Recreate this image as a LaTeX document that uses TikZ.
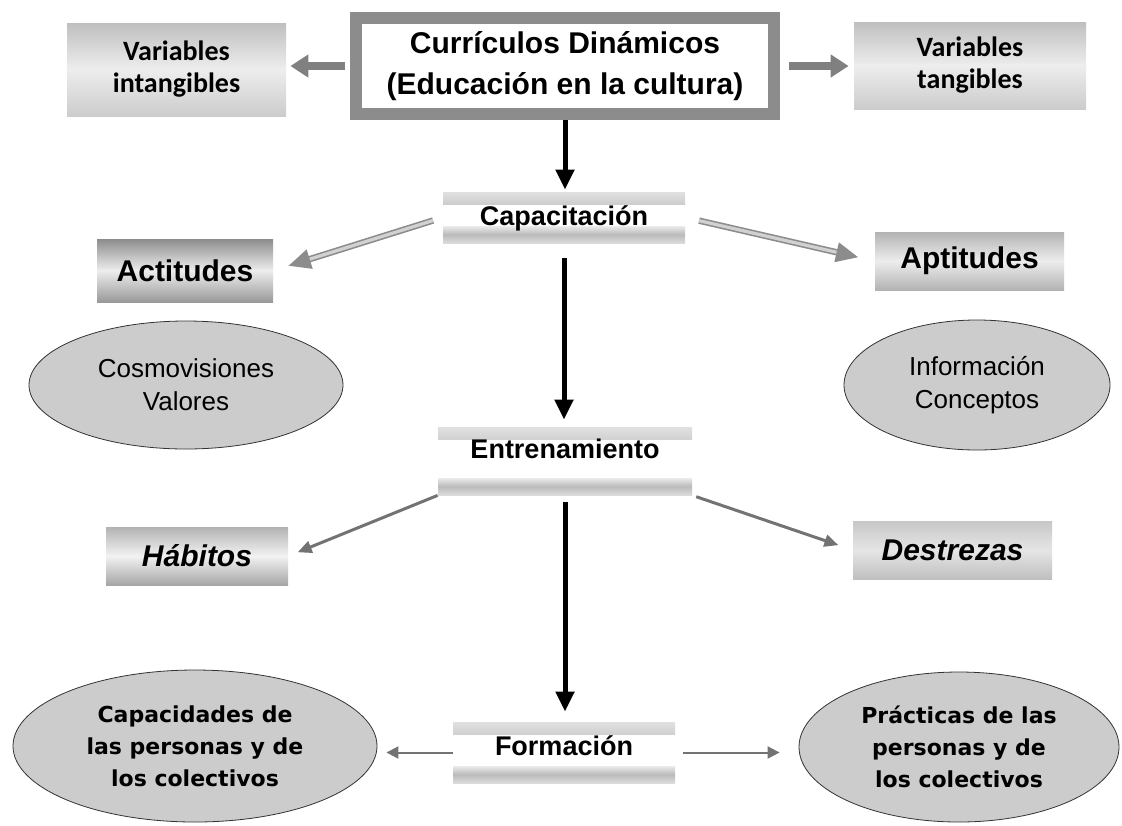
\documentclass[tikz,border=0pt]{standalone}
\usepackage{fontspec}
\setmainfont{Liberation Sans}
\newfontfamily\calfont{Carlito}
\newfontfamily\verfont{DejaVu Sans}
\usetikzlibrary{shapes.geometric,arrows.meta}

\begin{document}
\begin{tikzpicture}[x=0.5pt,y=-0.5pt,
    cur/.style={draw=black!45,line width=6pt,fill=white,minimum width=209pt,minimum height=47pt,
      align=center,font=\bfseries\fontsize{15}{20.5}\selectfont},
    varbox/.style={inner sep=0pt,align=center,font=\calfont\bfseries\fontsize{14}{16}\selectfont,
      top color=black!25,bottom color=black!20,middle color=black!7},
    keybox/.style={inner sep=0pt,minimum height=29pt,font=\bfseries\fontsize{15}{18}\selectfont},
    band/.style={inner sep=0pt,text height=16.5pt,font=\bfseries\fontsize{13.5}{16}\selectfont,
      path picture={
        \shade[top color=black!12,bottom color=black!10,middle color=black!28] (path picture bounding box.north west)
          rectangle ([yshift=-6pt]path picture bounding box.north east);
        \shade[top color=black!8,bottom color=black!14,middle color=black!27] ([yshift=8.5pt]path picture bounding box.south west)
          rectangle (path picture bounding box.south east);}},
    bubble/.style={ellipse,draw=black!80,fill=black!20,inner sep=0pt,align=center},
    big/.style={draw=black!50,line width=4pt,-{Triangle[length=9pt,width=11pt]}},
    vline/.style={line width=2.5pt,-{Triangle[length=10pt,width=9pt]}},
    twin/.style={draw=black!45,double=black!18,line width=0.8pt,double distance=1.6pt,
      -{Triangle[length=11pt,width=10pt]}},
    side/.style={draw=black!55,line width=1.5pt,-{Triangle[length=7pt,width=6pt]}},
    fine/.style={draw=black!55,line width=1pt,-{Triangle[length=6pt,width=6pt]}}]

  \fill[white] (0,0) rectangle (1122,825);

  \node[cur] (cu) at (565,66) {\raisebox{3.5pt}{\begin{tabular}{@{}c@{}}Currículos Dinámicos\\(Educación en la cultura)\end{tabular}}};
  \node[varbox,minimum width=109.5pt,minimum height=46.5pt] (intan) at (176.5,69.5) {Variables\\intangibles};
  \node[varbox,minimum width=116pt,minimum height=43.5pt] (tang) at (970,65.5) {Variables\\tangibles};

  \node[band,minimum width=121pt,text depth=9pt] (cap) at (564,217.5) {Capacitación};
  \node[keybox,minimum width=88pt,minimum height=31.5pt,top color=black!45,bottom color=black!40,middle color=black!7] (act) at (185,270.5) {Actitudes};
  \node[keybox,minimum width=94.5pt,top color=black!30,bottom color=black!30,middle color=black!7] (apt) at (969.5,261) {Aptitudes};

  \node[bubble,minimum width=157pt,minimum height=64pt,font=\fontsize{13}{16.5}\selectfont] (cos) at (186,385) {Cosmovisiones\\Valores};
  \node[bubble,minimum width=133pt,minimum height=65pt,font=\fontsize{13}{16.5}\selectfont] (inf) at (977,385) {Información\\Conceptos};

  \node[band,minimum width=127pt,text height=15.5pt,text depth=18.5pt] (ent) at (565,461) {Entrenamiento};
  \node[keybox,minimum width=91pt,font=\bfseries\itshape\fontsize{15}{18}\selectfont,top color=black!30,bottom color=black!35,middle color=black!5] (hab) at (197,556) {Hábitos};
  \node[keybox,minimum width=99.5pt,font=\bfseries\itshape\fontsize{15}{18}\selectfont,top color=black!22,bottom color=black!25,middle color=black!10] (des) at (952.5,550) {Destrezas};

  \node[band,minimum width=111pt,text depth=14pt] (for) at (564,752.5) {Formación};
  \node[bubble,minimum width=182pt,minimum height=76pt,font=\verfont\bfseries\fontsize{11}{16}\selectfont] (capa) at (195,746) {Capacidades de\\las personas y de\\los colectivos};
  \node[bubble,minimum width=160pt,minimum height=75pt,font=\verfont\bfseries\fontsize{11}{16}\selectfont] (pra) at (959,747) {Prácticas de las\\personas y de\\los colectivos};

  \draw[big,shorten <=2.5pt,shorten >=2pt] (cu.west) -- (cu.west -| intan.east);
  \draw[big,shorten <=4.5pt,shorten >=2.5pt] (cu.east) -- (cu.east -| tang.west);
  \draw[vline,shorten >=1pt] (cu.south) -- (cu.south |- cap.north);
  \draw[twin,shorten <=5pt,shorten >=8pt] (cap.west) -- (act.east);
  \draw[twin,shorten <=7pt,shorten >=8.5pt] (cap.east) -- (apt.west);
  \draw[vline,shorten <=7.5pt,shorten >=3.5pt] (cap.south) -- (cap.south |- ent.north);
  \draw[side,shorten >=5pt] (ent.south west) -- (hab.east);
  \draw[side,shorten <=2pt,shorten >=7.5pt] (ent.south east) -- (des.west);
  \draw[vline,shorten <=3.5pt,shorten >=5pt] (ent.south) -- (ent.south |- for.north);
  \draw[fine,shorten >=4.5pt] (for.west) -- (for.west -| capa.east);
  \draw[fine,shorten <=4pt,shorten >=9.5pt] (for.east) -- (for.east -| pra.west);
\end{tikzpicture}
\end{document}
